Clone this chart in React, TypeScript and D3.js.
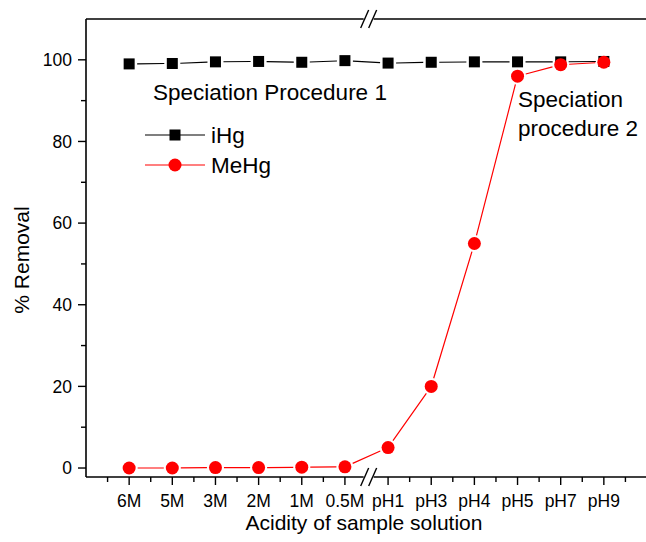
import * as d3 from 'd3';

const categories = ['6M', '5M', '3M', '2M', '1M', '0.5M', 'pH1', 'pH3', 'pH4', 'pH5', 'pH7', 'pH9'];
const iHgValues = [99.0, 99.1, 99.5, 99.6, 99.4, 99.8, 99.2, 99.4, 99.5, 99.5, 99.5, 99.6];
const meHgValues = [0, 0, 0.1, 0.1, 0.2, 0.3, 5, 20, 55, 96, 98.8, 99.4];
const yTicks = [0, 20, 40, 60, 80, 100];
const yMinorTicks = [10, 30, 50, 70, 90];

const W = 646;
const H = 542;
const left = 86;
const right = 647;
const top = 19;
const bottom = 477;
const font = 'Arial, "Liberation Sans", sans-serif';

const x = d3.scalePoint<string>().domain(categories).range([left, right]).padding(1);
const y = d3.scaleLinear().domain([-2.2, 110]).range([bottom, top]);
const step = x.step();
// axis break sits between 0.5M and pH1
const breakX = (x('0.5M') as number) + step * 0.55;

type Pt = { cx: number; cy: number };

// segments between markers, with a small gap at each symbol (Origin style)
function gappedSegments(pts: Pt[], gap: number) {
  const segs: string[] = [];
  for (let i = 0; i < pts.length - 1; i++) {
    const a = pts[i];
    const b = pts[i + 1];
    const dx = b.cx - a.cx;
    const dy = b.cy - a.cy;
    const len = Math.hypot(dx, dy);
    if (len <= gap * 2) continue;
    const ux = dx / len;
    const uy = dy / len;
    segs.push(
      `M${a.cx + ux * gap},${a.cy + uy * gap}L${b.cx - ux * gap},${b.cy - uy * gap}`
    );
  }
  return segs.join('');
}

function BreakMark({ cx, cy }: { cx: number; cy: number }) {
  return (
    <g>
      <rect x={cx - 5} y={cy - 2} width={10} height={4} fill="#fff" />
      <line x1={cx - 8} y1={cy + 9} x2={cx} y2={cy - 9} stroke="#000" strokeWidth={1.4} />
      <line x1={cx} y1={cy + 9} x2={cx + 8} y2={cy - 9} stroke="#000" strokeWidth={1.4} />
    </g>
  );
}

export default function App() {
  const iHgPts = categories.map((c, i) => ({ cx: x(c) as number, cy: y(iHgValues[i]) }));
  const meHgPts = categories.map((c, i) => ({ cx: x(c) as number, cy: y(meHgValues[i]) }));

  const majorX = categories.map((c) => x(c) as number);
  const minorX: number[] = [];
  for (let i = -1; i < categories.length; i++) {
    const m = left + step * (i + 1.5);
    if (Math.abs(m - breakX) < step * 0.3) continue;
    if (m > left && m < W) minorX.push(m);
  }

  const legendY1 = 135;
  const legendY2 = 165;

  return (
    <svg width={W} height={H} style={{ position: 'absolute', left: 0, top: 0, background: '#fff' }} fontFamily={font}>
      {/* frame */}
      <line x1={left} y1={top} x2={right} y2={top} stroke="#000" strokeWidth={1.6} />
      <line x1={left} y1={bottom} x2={right} y2={bottom} stroke="#000" strokeWidth={1.6} />
      <line x1={left} y1={top} x2={left} y2={bottom} stroke="#000" strokeWidth={1.6} />

      {/* y ticks */}
      {yTicks.map((t) => (
        <g key={t}>
          <line x1={left - 8} x2={left} y1={y(t)} y2={y(t)} stroke="#000" strokeWidth={1.4} />
          <text x={left - 14} y={y(t)} dy="0.35em" textAnchor="end" fontSize={17.5}>
            {t}
          </text>
        </g>
      ))}
      {yMinorTicks.map((t) => (
        <line key={t} x1={left - 5} x2={left} y1={y(t)} y2={y(t)} stroke="#000" strokeWidth={1.4} />
      ))}

      {/* x ticks */}
      {majorX.map((px, i) => (
        <g key={categories[i]}>
          <line x1={px} x2={px} y1={bottom} y2={bottom + 8} stroke="#000" strokeWidth={1.4} />
          <text x={px} y={bottom + 18} dy="0.71em" textAnchor="middle" fontSize={17.5}>
            {categories[i]}
          </text>
        </g>
      ))}
      {minorX.map((px) => (
        <line key={px} x1={px} x2={px} y1={bottom} y2={bottom + 5} stroke="#000" strokeWidth={1.4} />
      ))}

      <BreakMark cx={breakX} cy={top} />
      <BreakMark cx={breakX} cy={bottom} />

      {/* axis titles */}
      <text x={364} y={530} textAnchor="middle" fontSize={21}>
        Acidity of sample solution
      </text>
      <text transform={`translate(29,${(top + bottom) / 2 + 12}) rotate(-90)`} textAnchor="middle" fontSize={21}>
        % Removal
      </text>

      {/* iHg */}
      <path d={gappedSegments(iHgPts, 8)} fill="none" stroke="#000" strokeWidth={1.1} />
      {iHgPts.map((p, i) => (
        <rect key={i} x={p.cx - 5.5} y={p.cy - 5.5} width={11} height={11} fill="#000" />
      ))}

      {/* MeHg */}
      <path d={gappedSegments(meHgPts, 8.5)} fill="none" stroke="#ff0000" strokeWidth={1.2} />
      {meHgPts.map((p, i) => (
        <circle key={i} cx={p.cx} cy={p.cy} r={6.5} fill="#ff0000" />
      ))}

      {/* annotations */}
      <text x={153} y={100} fontSize={22.5}>Speciation Procedure 1</text>
      <text x={518} y={107} fontSize={22.5}>Speciation</text>
      <text x={518} y={136} fontSize={22.5}>procedure 2</text>

      {/* legend */}
      <line x1={145} x2={205} y1={legendY1} y2={legendY1} stroke="#000" strokeWidth={1.1} />
      <rect x={175 - 5.5} y={legendY1 - 5.5} width={11} height={11} fill="#000" />
      <text x={211} y={legendY1} dy="0.35em" fontSize={22.5}>iHg</text>
      <line x1={145} x2={205} y1={legendY2} y2={legendY2} stroke="#ff0000" strokeWidth={1.2} />
      <circle cx={175} cy={legendY2} r={6.5} fill="#ff0000" />
      <text x={211} y={legendY2} dy="0.35em" fontSize={22.5}>MeHg</text>
    </svg>
  );
}
